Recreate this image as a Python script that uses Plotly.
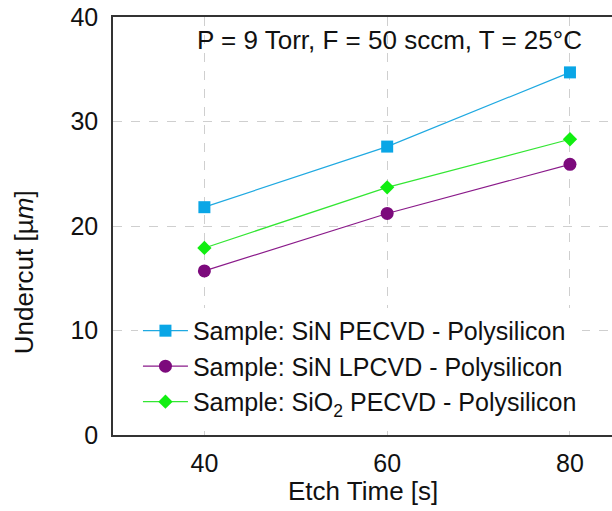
import plotly.graph_objects as go

# Etch time (s) and measured undercut (µm) per sample stack
etch_time = [40, 60, 80]
sin_pecvd = [21.8, 27.6, 34.7]
sin_lpcvd = [15.7, 21.2, 25.9]
sio2_pecvd = [17.9, 23.7, 28.3]

series_names = [
    "Sample: SiN PECVD - Polysilicon",
    "Sample: SiN LPCVD - Polysilicon",
    "Sample: SiO<sub>2</sub> PECVD - Polysilicon",
]
x_ticks = [40, 60, 80]
y_ticks = [0, 10, 20, 30, 40]

FONT = "Liberation Sans, Arial, sans-serif"
TXT = "#111"

fig = go.Figure()
fig.add_trace(go.Scatter(
    x=etch_time, y=sin_pecvd, name=series_names[0], mode="lines+markers",
    line=dict(color="#1fa9e1", width=1.2),
    marker=dict(symbol="square", size=12, color="#0aa6e6"),
))
fig.add_trace(go.Scatter(
    x=etch_time, y=sin_lpcvd, name=series_names[1], mode="lines+markers",
    line=dict(color="#8a1a8a", width=1.2),
    marker=dict(symbol="circle", size=13, color="#7c0a7c"),
))
fig.add_trace(go.Scatter(
    x=etch_time, y=sio2_pecvd, name=series_names[2], mode="lines+markers",
    line=dict(color="#33e633", width=1.2),
    marker=dict(symbol="diamond", size=11, color="#11ee11"),
))

fig.update_layout(
    width=612, height=511,
    margin=dict(l=113, r=0, t=17, b=76),
    paper_bgcolor="white", plot_bgcolor="white",
    font=dict(family=FONT, size=25, color=TXT),
    showlegend=True,
    legend=dict(
        x=0.05, y=0.304, xanchor="left", yanchor="top",
        bgcolor="rgba(255,255,255,1)", borderwidth=0,
        font=dict(family=FONT, size=25, color=TXT),
        tracegroupgap=0, itemwidth=45,
    ),
    xaxis=dict(
        range=[30, 84.6], tickvals=x_ticks, showgrid=True,
        gridcolor="#cfcfcf", griddash="dash", gridwidth=1,
        showline=True, linecolor="#333", linewidth=1.5, mirror=True,
        zeroline=False, ticks="", tickfont=dict(size=25, color=TXT),
        ticklabelstandoff=5,
    ),
    yaxis=dict(
        range=[0, 40], tickvals=y_ticks, showgrid=True,
        gridcolor="#cfcfcf", griddash="dash", gridwidth=1,
        showline=True, linecolor="#333", linewidth=1.5,
        zeroline=False, ticks="", tickfont=dict(size=25, color=TXT),
        ticklabelstandoff=8,
    ),
    annotations=[
        # Process conditions, placed in data coordinates inside the plot
        dict(text="P = 9 Torr, F = 50 sccm, T = 25°C", x=60.2, y=37.8,
             xref="x", yref="y", showarrow=False,
             font=dict(size=26, color=TXT)),
        dict(text="Etch Time [s]", x=0.5, y=-0.175, xref="paper", yref="paper",
             showarrow=False, font=dict(size=26, color=TXT)),
        dict(text="Undercut [µ<i>m</i>]", x=-0.212, y=0.39, xref="paper",
             yref="paper", textangle=-90, showarrow=False,
             font=dict(size=26, color=TXT)),
    ],
)

fig.write_html("out.html")
